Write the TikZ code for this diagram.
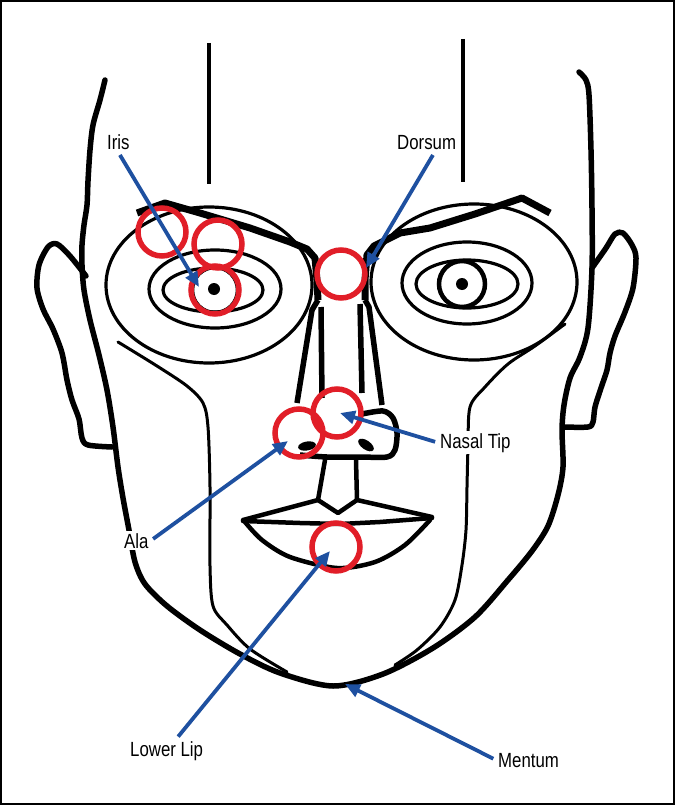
\documentclass[tikz,border=0pt]{standalone}
\usepackage{fontspec}
\setmainfont{Liberation Sans}[FakeStretch=0.82]
\usetikzlibrary{arrows.meta}
\definecolor{markred}{RGB}{225,30,40}
\definecolor{arrowblue}{RGB}{30,80,160}

\begin{document}
\begin{tikzpicture}[x=1pt, y=-1pt,
	mylabel/.style={rectangle, fill=white, inner sep=2pt, font=\fontsize{20.5}{21}\selectfont},
	mycircle/.style={circle, draw=markred, line width=5.5pt, minimum size=48pt, inner sep=0pt},
	myarrow/.style={draw=arrowblue, line width=3.8pt, -{Triangle[length=15pt,width=13pt]}, shorten <=3pt},
	headline/.style={line width=5.5pt, line cap=round, line join=round},
	thinline/.style={line width=3pt, line cap=round},
	eyeline/.style={line width=3.2pt},
	noseline/.style={line width=5.5pt, line join=round},
	lipline/.style={line width=4.5pt, line join=round, line cap=round}]
	\useasboundingbox (0,0) rectangle (675,805);
	\draw[line width=2pt] (1,1) rectangle (674,804);

	% head and ears
	\draw[headline] plot[smooth] coordinates {(105,80) (100,100) (93,125) (90,150) (88,181) (87,205) (84,225) (82,245) (82,265) (84,290) (90,320) (99,355) (107,390) (113,427) (118,467) (123,498) (129,530) (135,562) (145,584) (167,606) (200,630) (240,654) (280,673) (333,686) (383,674) (433,648) (475,617) (508,580) (532,551) (548,526) (558,495) (563,467) (562,430) (564,405) (570,378) (580,357) (588,328) (592,268) (592,209) (591,150) (589,95) (586,80) (579,72)};
	\draw[headline] plot[smooth] coordinates {(86,276) (70,256) (57,244) (48,247) (39,265) (37,288) (43,309) (53,329) (62,353) (67,380) (72,400) (79,419) (82,438) (88,445) (112,447)};
	\draw[headline] plot[smooth] coordinates {(592,268) (606,248) (615,234) (623,233) (632,245) (636,258) (633,288) (625,312) (615,336) (610,353) (607,370) (601,388) (595,407) (593,422) (588,427) (564,427)};
	\draw[line width=3.8pt] (209,43) -- (209,184);
	\draw[line width=3.8pt] (463,39) -- (463,182);

	% cheek lines
	\draw[thinline] plot[smooth] coordinates {(118,342) (157,366) (187,386) (203,403) (208,427) (210,487) (210,566) (213,606) (227,625) (250,649) (287,672)};
	\draw[thinline] plot[smooth] coordinates {(565,324) (535,346) (508,364) (485,387) (470,407) (468,447) (467,487) (466,530) (462,565) (455,600) (440,627) (417,650) (395,665)};

	% eyes
	\draw[eyeline] (209,285) ellipse [x radius=103pt, y radius=78pt];
	\draw[eyeline] (474,282) ellipse [x radius=103pt, y radius=78pt];
	\draw[eyeline] (215,289) ellipse [x radius=66pt, y radius=39pt];
	\draw[eyeline] (467,283) ellipse [x radius=65pt, y radius=41pt];
	\draw[eyeline] (213,290) ellipse [x radius=50pt, y radius=22pt];
	\draw[eyeline] (467,284) ellipse [x radius=51pt, y radius=24pt];
	\draw[line width=4.5pt] (215,290) circle [radius=23pt];
	\draw[line width=4.5pt] (462,284) circle [radius=23pt];
	\fill (214,289) circle [radius=6pt];
	\fill (462,284) circle [radius=6pt];

	% brows and nose
	\draw[line width=7pt, line join=round] (137,213) -- (165,203) -- (200,213) -- (250,228) -- (290,242) -- (307,249) -- (315,258) -- (317,280) -- (318,300);
	\draw[line width=7pt, line join=round] (550,213) -- (522,198) -- (475,214) -- (430,228) -- (400,233) -- (374,246) -- (367,255) -- (365,280) -- (365,300);
	\draw[noseline] (318,300) -- (312,310) -- (297,403);
	\draw[noseline] (321,307) -- (322,398);
	\draw[noseline] (360,304) -- (362,393);
	\draw[noseline] (365,300) -- (369,307) -- (382,405);
	\draw[noseline] plot[smooth] coordinates {(362,414) (383,411) (393,418) (397,433) (395,450) (387,457) (360,457) (327,457) (300,455)};
	\fill[rotate around={10:(307,446)}] (307,446) ellipse [x radius=9pt, y radius=4.5pt];
	\fill[rotate around={-35:(366,445)}] (366,445) ellipse [x radius=9pt, y radius=4.5pt];

	% mouth
	\draw[lipline] (325,460) -- (318,500) -- (338,513) -- (357,500) -- (356,460);
	\draw[lipline] (243,520) -- (318,500);
	\draw[lipline] (357,500) -- (432,517);
	\draw[lipline] (243,521) -- (300,523) -- (340,524) -- (380,522) -- (432,518);
	\draw[lipline] plot[smooth] coordinates {(245,522) (262,540) (290,557) (337,568) (375,562) (405,545) (430,520)};

	% marks
	\node[mycircle] (brow) at (162,232) {};
	\node[mycircle] (lid) at (218,244) {};
	\node[mycircle] (pupil) at (215,290) {};
	\node[mycircle] (bridge) at (341,274) {};
	\node[mycircle] (tip) at (337,413) {};
	\node[mycircle] (wing) at (299,433) {};
	\node[mycircle] (lip) at (336,547) {};

	\coordinate (iristip) at (199,287);
	\coordinate (dorsumtip) at (366,268);
	\coordinate (nasaltip) at (340,413);
	\coordinate (alatip) at (288,441);
	\coordinate (lowerliptip) at (330,551);
	\coordinate (mentumtip) at (345,684);

	% labels
	\node[mylabel, anchor=base west] (iris) at (105,150) {Iris};
	\node[mylabel, anchor=base west] (dorsum) at (395,150) {Dorsum};
	\node[mylabel, anchor=base west] (nasal) at (438,448) {Nasal Tip};
	\node[mylabel, anchor=base west] (ala) at (122,548) {Ala};
	\node[mylabel, anchor=base west] (lowerlip) at (128,756) {Lower Lip};
	\node[mylabel, anchor=base west] (mentum) at (496,767) {Mentum};

	\path (iris.south) edge[myarrow] (iristip);
	\path (dorsum.-50) edge[myarrow] (dorsumtip);
	\path (nasal.west) edge[myarrow] (nasaltip);
	\path (ala.east) edge[myarrow] (alatip);
	\path (lowerlip) edge[myarrow] (lowerliptip);
	\path (mentum.west) edge[myarrow] (mentumtip);
\end{tikzpicture}
\end{document}
